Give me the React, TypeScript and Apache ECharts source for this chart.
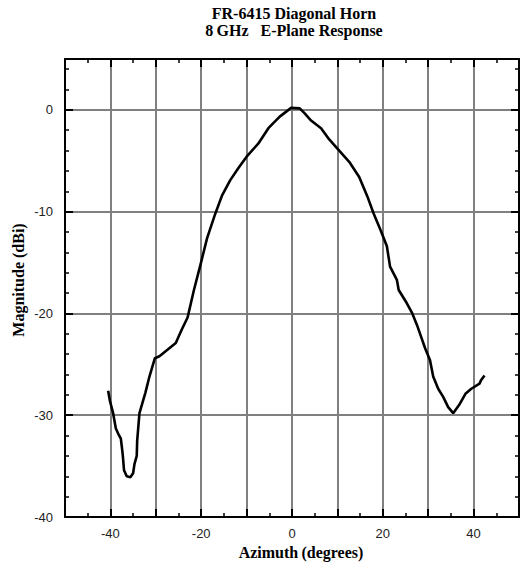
import React, { useEffect, useRef } from "react";
import * as echarts from "echarts";

const azimuth = [
  -40.5, -40.1, -39.4, -38.8, -38.3, -37.7, -37.3, -37.0, -36.4, -35.6, -35.0, -34.7, -34.2, -34.1, -33.6,
  -32.3, -31.4, -30.2, -29.2, -25.6, -24.3, -23.0, -21.6, -20.1, -18.7, -16.9, -15.4, -13.6, -11.8, -10.0,
  -7.4, -5.2, -2.7, -0.2, 1.7, 2.8, 4.2, 6.4, 8.2, 10.2, 12.6, 14.8, 16.6, 18.0, 19.5, 20.9, 21.6, 23.1,
  23.5, 25.3, 26.5, 27.5, 28.6, 29.3, 30.4, 31.1, 32.2, 33.3, 34.4, 35.5, 36.8, 38.2, 39.5, 41.3, 41.6, 42.4,
];
const magnitude = [
  -27.6, -28.6, -29.8, -31.3, -31.8, -32.3, -33.8, -35.4, -36.0, -36.1, -35.7, -34.8, -34.0, -32.5, -29.8,
  -27.8, -26.2, -24.4, -24.2, -22.9, -21.6, -20.4, -17.7, -15.1, -12.6, -10.2, -8.4, -6.9, -5.7, -4.6,
  -3.3, -1.8, -0.66, 0.2, 0.15, -0.35, -1.05, -1.8, -2.9, -3.9, -5.1, -6.6, -8.5, -10.2, -11.8, -13.4, -15.4, -16.7,
  -17.7, -19.0, -20.0, -21.1, -22.5, -23.4, -24.6, -26.2, -27.4, -28.2, -29.2, -29.8, -29.0, -27.9, -27.4, -26.9, -26.6, -26.1,
];

const xTickLabels = [-40, -20, 0, 20, 40];
const yTickLabels = [0, -10, -20, -30, -40];

const titleLine1 = "FR-6415 Diagonal Horn";
const titleLine2 = "8\u2009GHz   E-Plane Response";
const xName = "Azimuth\u2009(degrees)";
const yName = "Magnitude (dBi)";

const SERIF = "'Liberation Serif', 'Times New Roman', serif";
const SANS = "'Liberation Sans', Arial, sans-serif";

export default function App() {
  const ref = useRef<HTMLDivElement>(null);
  useEffect(() => {
    if (!ref.current) return;
    const chart = echarts.init(ref.current, undefined, { renderer: "svg" });
    const data = azimuth.map((x, i) => [x, magnitude[i]]);
    const axisLine = { show: true, onZero: false, lineStyle: { color: "#000", width: 2 } };
    const noLine = { show: false, onZero: false };
    const majorTick = { show: true, inside: true, length: 8, lineStyle: { color: "#000", width: 2 } };
    const minorTickStyle = { show: true, inside: true, length: 4, lineStyle: { color: "#000", width: 1.5 } };
    const grayLine = { show: true, lineStyle: { color: "#808080", width: 2 } };
    const labelStyle = { fontSize: 13, color: "#222", fontFamily: SANS };
    chart.setOption({
      animation: false,
      backgroundColor: "#fff",
      grid: { left: 65, right: -1.6, top: 59, bottom: 45, containLabel: false },
      xAxis: [
        {
          type: "value", position: "bottom", min: -50, max: 50, interval: 10,
          axisLine, axisTick: majorTick,
          minorTick: { show: true, splitNumber: 2, length: 4, lineStyle: { color: "#000", width: 1.5 } },
          axisLabel: {
            ...labelStyle, margin: 10,
            formatter: (v: number) => (xTickLabels.includes(v) ? String(v) : ""),
          },
          splitLine: grayLine,
        },
        {
          type: "value", position: "top", min: -50, max: 50, interval: 10,
          axisLine, axisTick: majorTick,
          minorTick: { show: true, splitNumber: 2, length: 4, lineStyle: { color: "#000", width: 1.5 } },
          axisLabel: { show: false }, splitLine: { show: false },
        },
      ],
      yAxis: [
        {
          type: "value", position: "left", min: -40, max: 5, interval: 10,
          axisLine, axisTick: majorTick,
          axisLabel: {
            ...labelStyle, margin: 12,
            formatter: (v: number) => (yTickLabels.includes(v) ? String(v) : ""),
          },
          splitLine: grayLine,
        },
        {
          type: "value", position: "left", min: -40, max: 5, interval: 2,
          axisLine: noLine, axisTick: minorTickStyle,
          axisLabel: { show: false }, splitLine: { show: false },
        },
        {
          type: "value", position: "right", min: -40, max: 5, interval: 10,
          axisLine, axisTick: majorTick,
          axisLabel: { show: false }, splitLine: { show: false },
        },
        {
          type: "value", position: "right", min: -40, max: 5, interval: 2,
          axisLine: noLine, axisTick: minorTickStyle,
          axisLabel: { show: false }, splitLine: { show: false },
        },
      ],
      graphic: [
        {
          type: "text", x: 294, y: 13,
          style: { text: titleLine1, font: `bold 16px ${SERIF}`, fill: "#000", textAlign: "center", textVerticalAlign: "middle" },
        },
        {
          type: "text", x: 294, y: 30,
          style: { text: titleLine2, font: `bold 16px ${SERIF}`, fill: "#000", textAlign: "center", textVerticalAlign: "middle" },
        },
        {
          type: "text", x: 301, y: 552,
          style: { text: xName, font: `bold 16px ${SERIF}`, fill: "#000", textAlign: "center", textVerticalAlign: "middle" },
        },
        {
          type: "text", x: 18, y: 280, rotation: Math.PI / 2,
          style: { text: yName, font: `bold 16px ${SERIF}`, fill: "#000", textAlign: "center", textVerticalAlign: "middle" },
        },
      ],
      series: [
        {
          type: "line", xAxisIndex: 0, yAxisIndex: 0, data,
          showSymbol: false, symbol: "none", smooth: false,
          lineStyle: { color: "#000", width: 2.6 },
        },
      ],
    });
    return () => chart.dispose();
  }, []);
  return <div ref={ref} style={{ position: "fixed", left: 0, top: 0, width: 522, height: 562 }} />;
}
